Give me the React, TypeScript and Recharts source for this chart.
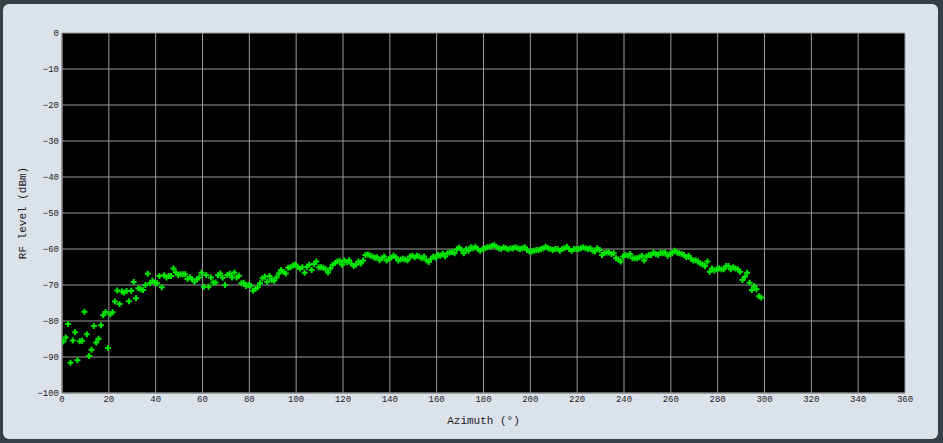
import { ScatterChart, Scatter, XAxis, YAxis, CartesianGrid, Label } from 'recharts';

// azimuth samples: first reading and spacing (degrees)
const AZIMUTH_START = 0.6;
const AZIMUTH_STEP = 1;

// measured RF level per azimuth sample (dBm)
const LEVELS = [
  -85.7, -84.6, -80.8, -91.6, -85.4, -83.1, -90.9, -85.6, -85.5, -77.4,
  -83.7, -89.7, -88.0, -81.4, -86.0, -84.9, -81.2, -78.4, -77.5, -87.5,
  -78.1, -77.6, -74.6, -71.5, -75.3, -71.8, -72.1, -71.7, -74.5, -71.6,
  -69.2, -73.7, -70.9, -71.2, -71.4, -70.0, -66.9, -69.5, -68.8, -69.3,
  -69.5, -67.5, -70.6, -67.3, -67.9, -67.5, -67.5, -65.4, -66.5, -67.2,
  -67.0, -67.0, -67.0, -68.3, -67.9, -68.4, -69.1, -68.4, -67.9, -66.6,
  -70.5, -67.2, -70.5, -67.9, -69.3, -69.3, -67.3, -66.8, -68.0, -70.0,
  -67.2, -66.9, -67.9, -66.5, -67.9, -67.4, -69.5, -69.4, -70.3, -70.0,
  -70.2, -71.6, -71.1, -70.6, -69.5, -68.1, -67.7, -69.1, -67.5, -68.6,
  -68.8, -67.9, -66.8, -65.8, -66.4, -66.8, -65.2, -65.1, -64.6, -64.3,
  -64.9, -65.4, -65.1, -66.6, -64.9, -64.4, -65.8, -64.2, -63.5, -65.1,
  -65.1, -65.2, -65.6, -66.5, -65.4, -64.4, -63.9, -63.5, -63.3, -64.4,
  -63.2, -63.7, -63.1, -64.1, -64.7, -64.4, -63.5, -64.0, -63.2, -61.7,
  -61.5, -61.8, -62.1, -62.4, -62.3, -63.1, -62.6, -62.1, -63.2, -62.8,
  -62.4, -61.9, -62.3, -63.2, -62.9, -62.7, -62.9, -63.1, -62.1, -61.9,
  -62.3, -61.9, -62.1, -62.6, -62.1, -63.1, -63.6, -62.7, -62.1, -62.4,
  -61.6, -61.9, -61.3, -62.1, -61.2, -61.0, -60.8, -61.2, -60.1, -59.6,
  -60.3, -61.2, -60.1, -60.5, -59.5, -59.8, -59.4, -60.1, -60.5, -60.0,
  -59.8, -59.5, -59.4, -59.2, -58.9, -59.5, -59.8, -60.0, -59.5, -59.8,
  -60.1, -59.8, -59.8, -59.5, -59.8, -60.0, -59.8, -59.5, -60.3, -60.7,
  -60.7, -60.5, -60.3, -60.3, -60.0, -59.8, -59.4, -59.8, -60.0, -60.3,
  -60.0, -60.0, -60.5, -60.0, -59.8, -59.4, -60.0, -60.5, -60.0, -60.0,
  -60.0, -59.8, -59.5, -59.8, -60.0, -59.8, -60.5, -60.7, -59.8, -60.3,
  -61.7, -61.2, -61.0, -61.0, -61.4, -61.2, -62.6, -62.9, -63.5, -62.1,
  -61.7, -61.9, -61.4, -62.6, -62.6, -62.6, -62.3, -61.9, -63.2, -62.1,
  -61.7, -61.7, -61.0, -61.4, -61.7, -61.0, -61.2, -61.0, -61.9, -61.4,
  -61.2, -60.5, -61.0, -61.2, -61.4, -61.7, -62.3, -61.9, -62.7, -63.2,
  -63.1, -63.5, -64.0, -64.3, -64.7, -63.5, -66.3, -65.4, -66.0, -65.6,
  -65.4, -65.6, -65.6, -64.7, -64.7, -65.6, -65.1, -65.4, -65.6, -66.3,
  -68.6, -67.7, -66.6, -69.4, -71.4, -70.3, -71.2, -73.1, -73.5,
];

const X_TICKS = [0, 20, 40, 60, 80, 100, 120, 140, 160, 180, 200, 220, 240, 260, 280, 300, 320, 340, 360];
const Y_TICKS = [-100, -90, -80, -70, -60, -50, -40, -30, -20, -10, 0];

const FONT = '"Liberation Mono", "DejaVu Sans Mono", monospace';
const TICK = { fontSize: 9, fill: '#1c1c28', fontFamily: FONT };
const TITLE = { fontSize: 11, fill: '#1c1c28', fontFamily: FONT };

const data = LEVELS.map((level, i) => ({
  azimuth: +(AZIMUTH_START + i * AZIMUTH_STEP).toFixed(1),
  level,
}));

const minus = (v: number) => String(v).replace('-', '\u2212');

const Cross = (props: any) => {
  const { cx, cy } = props;
  if (cx == null || cy == null) return null;
  const r = 3;
  return (
    <path
      d={`M${cx - r},${cy}H${cx + r}M${cx},${cy - r}V${cy + r}`}
      stroke="#00e600"
      strokeWidth={2}
      fill="none"
    />
  );
};

export default function App() {
  return (
    <div style={{ position: 'absolute', left: 0, top: 0, width: 943, height: 443, background: '#383e48' }}>
      <div
        style={{
          position: 'absolute',
          left: 3,
          top: 4,
          width: 935,
          height: 435,
          background: '#dce2ea',
          borderRadius: 6,
        }}
      />
      <ScatterChart
        width={943}
        height={443}
        margin={{ top: 33, right: 38, bottom: 0, left: 0 }}
        style={{ position: 'absolute', left: 0, top: 0 }}
      >
        <CartesianGrid fill="#000" stroke="#9c9c9c" strokeWidth={1} />
        <XAxis
          type="number"
          dataKey="azimuth"
          domain={[0, 360]}
          ticks={X_TICKS}
          interval={0}
          height={50}
          tick={TICK}
          tickLine={false}
          tickSize={3}
          tickMargin={0}
          axisLine={{ stroke: '#808080' }}
          allowDataOverflow
        >
          <Label value="Azimuth (°)" position="center" dy={2} style={TITLE} />
        </XAxis>
        <YAxis
          type="number"
          dataKey="level"
          domain={[-100, 0]}
          ticks={Y_TICKS}
          interval={0}
          width={62}
          tick={TICK}
          tickFormatter={minus}
          tickLine={false}
          tickSize={3}
          tickMargin={0}
          axisLine={{ stroke: '#808080' }}
          allowDataOverflow
        >
          <Label
            value="RF level (dBm)"
            angle={-90}
            position="center"
            dx={-9}
            style={{ ...TITLE, textAnchor: 'middle' }}
          />
        </YAxis>
        <Scatter data={data} shape={Cross} isAnimationActive={false} />
      </ScatterChart>
    </div>
  );
}
